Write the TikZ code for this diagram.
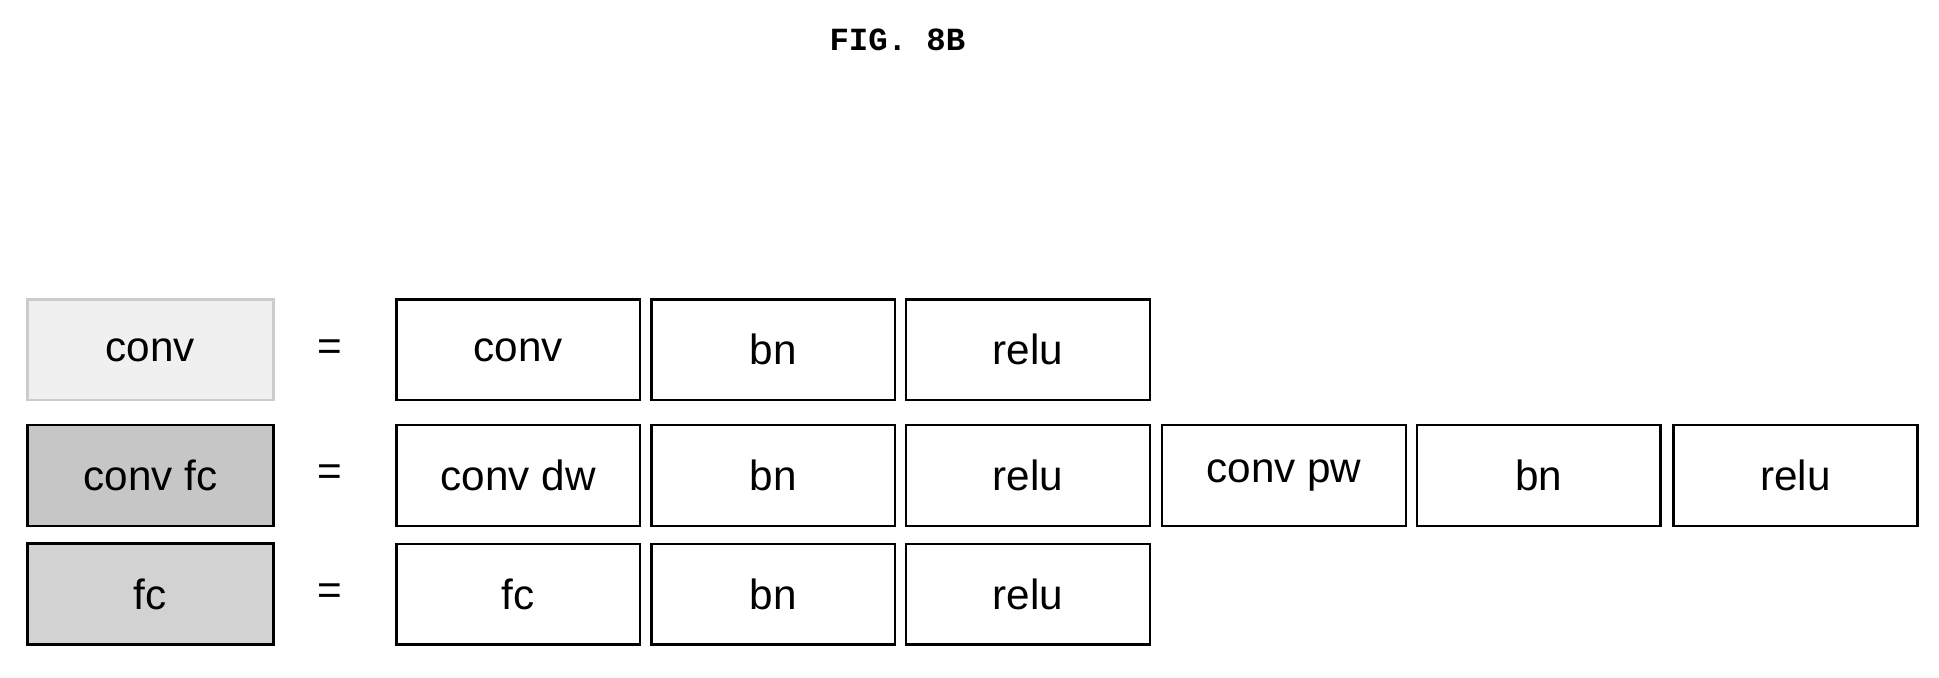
\documentclass[tikz,border=0pt]{standalone}
\usepackage{fontspec}
\setmainfont{Liberation Sans}
\newfontfamily\monofig{Liberation Mono}
\begin{document}
\begin{tikzpicture}[x=1pt,y=-1pt,
 blk/.style={draw=black,line width=2pt,minimum width=196pt,minimum height=81pt,inner sep=0pt,font=\fontsize{34}{34}\selectfont},
 lbl/.style={blk,minimum width=198pt}]
\useasboundingbox (0,0) rectangle (1560,545);
\node[font=\monofig\bfseries\fontsize{26}{26}\selectfont] (title) at (722,32) {FIG. 8B};
\node[lbl,draw=gray!40,fill=gray!12] (L1) at (121,281.5) {conv};
\node[lbl,fill=gray!45] (L2) at (121,382.5) {conv fc};
\node[lbl,fill=gray!35,line width=2.5pt] (L3) at (121,478) {fc};
\foreach \y/\n in {281.5/1,382.5/2,478/3}{\node[font=\fontsize{34}{34}\selectfont] (E\n) at (265,\y) {=};}
\node[blk] (A1) at (417,281.5) {conv};
\node[blk] (A2) at (622,281.5) {bn};
\node[blk] (A3) at (827,281.5) {relu};
\node[blk] (B1) at (417,382.5) {conv dw};
\node[blk] (B2) at (622,382.5) {bn};
\node[blk] (B3) at (827,382.5) {relu};
\node[blk] (B4) at (1033,382.5) {conv pw};
\node[blk] (B5) at (1238,382.5) {bn};
\node[blk] (B6) at (1444.5,382.5) {relu};
\node[blk] (C1) at (417,478) {fc};
\node[blk] (C2) at (622,478) {bn};
\node[blk] (C3) at (827,478) {relu};
\end{tikzpicture}
\end{document}
